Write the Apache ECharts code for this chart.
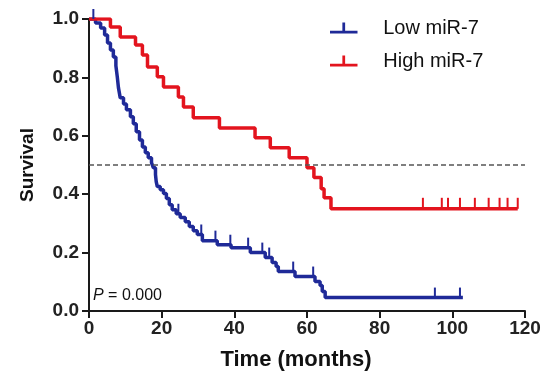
<!DOCTYPE html>
<html>
<head>
<meta charset="utf-8">
<script src="https://cdn.jsdelivr.net/npm/echarts@6/dist/echarts.min.js"></script>
<style>
  html, body { margin: 0; padding: 0; background: #fff; }
  #chart { width: 544px; height: 385px; }
</style>
</head>
<body>
<div id="chart"></div>
<script>
// Low miR-7: event times (months) and survival after each drop
const lowTimes = [1.8, 3.2, 4.3, 5.1, 5.9, 6.7, 7.4, 7.8, 8.1, 8.6, 9.5, 10.3, 11.4, 12.2, 13.0, 13.9, 14.7, 15.5, 16.3, 17.2, 17.7, 18.3, 18.5, 18.8, 19.6, 20.5, 21.3, 22.1, 22.9, 24.0, 25.1, 26.5, 27.6, 28.7, 29.8, 31.2, 35.3, 39.1, 44.4, 48.5, 50.4, 51.5, 52.1, 56.7, 62.2, 63.6, 64.2, 65.0]
const lowSurv = [0.986, 0.969, 0.945, 0.918, 0.894, 0.870, 0.840, 0.800, 0.765, 0.730, 0.709, 0.689, 0.665, 0.641, 0.614, 0.586, 0.562, 0.542, 0.525, 0.508, 0.491, 0.467, 0.443, 0.426, 0.415, 0.402, 0.385, 0.364, 0.347, 0.333, 0.320, 0.306, 0.289, 0.275, 0.262, 0.241, 0.227, 0.217, 0.200, 0.183, 0.166, 0.152, 0.135, 0.118, 0.101, 0.087, 0.067, 0.046]
const lowEnd = 102.9
const lowCensor = [1.2, 24.6, 30.9, 34.8, 38.9, 43.8, 47.7, 49.6, 56.2, 61.7, 95.2, 102.1]

// High miR-7
const highTimes = [5.9, 8.6, 12.8, 14.7, 16.1, 18.8, 20.5, 24.6, 26.0, 28.7, 35.9, 45.7, 49.9, 55.1, 60.0, 61.9, 63.9, 64.7, 66.6]
const highSurv = [0.973, 0.938, 0.911, 0.877, 0.836, 0.802, 0.767, 0.733, 0.699, 0.662, 0.627, 0.593, 0.559, 0.525, 0.491, 0.457, 0.419, 0.388, 0.350]
const highEnd = 118
const highCensor = [91.9, 97.1, 98.8, 102.1, 106.2, 110.0, 113.0, 115.2, 118.0]

const medianSurvival = 0.5
const pText = '{i|P} = 0.000'

const FONT = 'Arial, "Liberation Sans", sans-serif'
const BLUE = '#1f2a98'
const RED = '#e3141e'

// step curve points: start at (0, 1), one point per drop, end at last follow-up
const curve = (times, surv, end) => {
  const pts = [[0, 1]]
  times.forEach((t, i) => pts.push([t, surv[i]]))
  pts.push([end, surv[surv.length - 1]])
  return pts
}
// survival value at time t (for placing censor ticks)
const survAt = (times, surv, t) => {
  let s = 1
  times.forEach((ti, i) => { if (ti <= t) s = surv[i] })
  return s
}
const censorPts = (times, surv, cens) => cens.map(t => [t, survAt(times, surv, t)])

const legendIcon = 'path://M0,9L30,9L30,12L0,12Z M13.5,0L16.5,0L16.5,9L13.5,9Z'

const myChart = echarts.init(document.getElementById('chart'))
myChart.setOption({
  animation: false,
  grid: { left: 89, right: 19, top: 19, bottom: 74 },
  legend: {
    orient: 'vertical',
    left: 325,
    top: 13,
    itemWidth: 31,
    itemHeight: 11,
    itemGap: 13,
    icon: legendIcon,
    data: ['Low miR-7', 'High miR-7'],
    textStyle: { fontFamily: FONT, fontSize: 20, color: '#111', padding: [0, 0, 0, 19] },
  },
  xAxis: {
    type: 'value',
    min: 0,
    max: 120,
    interval: 20,
    name: 'Time (months)',
    nameLocation: 'middle',
    nameGap: 38,
    nameTextStyle: {
      fontFamily: FONT, fontSize: 22, fontWeight: 'bold', color: '#111',
      padding: [0, 22, 0, 0],
    },
    axisLine: { lineStyle: { color: '#1a1a1a', width: 2 } },
    axisTick: { length: 7, lineStyle: { width: 2, color: '#1a1a1a' } },
    axisLabel: { fontFamily: FONT, fontSize: 19, fontWeight: 'bold', color: '#222', margin: 8 },
    splitLine: { show: false },
  },
  yAxis: {
    type: 'value',
    min: 0,
    max: 1,
    interval: 0.2,
    name: 'Survival',
    nameLocation: 'middle',
    nameGap: 52,
    nameTextStyle: { fontFamily: FONT, fontSize: 19, fontWeight: 'bold', color: '#111' },
    axisLine: { show: true, lineStyle: { color: '#1a1a1a', width: 2 } },
    axisTick: { show: true, length: 7, lineStyle: { width: 2, color: '#1a1a1a' } },
    axisLabel: {
      fontFamily: FONT, fontSize: 19, fontWeight: 'bold', color: '#222', margin: 10,
      formatter: v => v.toFixed(1),
    },
    splitLine: { show: false },
  },
  graphic: [
    {
      type: 'text',
      left: 93,
      top: 288,
      style: {
        text: pText,
        fontFamily: FONT,
        fontSize: 16,
        fill: '#111',
        rich: { i: { fontStyle: 'italic', fontFamily: FONT, fontSize: 16, fill: '#111' } },
      },
    },
  ],
  series: [
    {
      name: 'Low miR-7',
      type: 'line',
      step: 'end',
      showSymbol: false,
      color: BLUE,
      lineStyle: { color: BLUE, width: 3.5 },
      data: curve(lowTimes, lowSurv, lowEnd),
      z: 3,
      markLine: {
        silent: true,
        symbol: 'none',
        label: { show: false },
        lineStyle: { color: '#555', width: 1.5, type: [5, 3] },
        data: [[{ coord: [0, medianSurvival] }, { coord: [120, medianSurvival] }]],
      },
    },
    {
      name: 'High miR-7',
      type: 'line',
      step: 'end',
      showSymbol: false,
      color: RED,
      lineStyle: { color: RED, width: 3.5 },
      data: curve(highTimes, highSurv, highEnd),
      z: 4,
    },
    {
      name: 'lowCensor',
      type: 'scatter',
      symbol: 'rect',
      symbolSize: [2, 10],
      symbolOffset: [0, -5],
      itemStyle: { color: BLUE, opacity: 1 },
      data: censorPts(lowTimes, lowSurv, lowCensor),
      z: 5,
    },
    {
      name: 'highCensor',
      type: 'scatter',
      symbol: 'rect',
      symbolSize: [2, 11],
      symbolOffset: [0, -5.5],
      itemStyle: { color: RED, opacity: 1 },
      data: censorPts(highTimes, highSurv, highCensor),
      z: 5,
    },
  ],
})
</script>
</body>
</html>
